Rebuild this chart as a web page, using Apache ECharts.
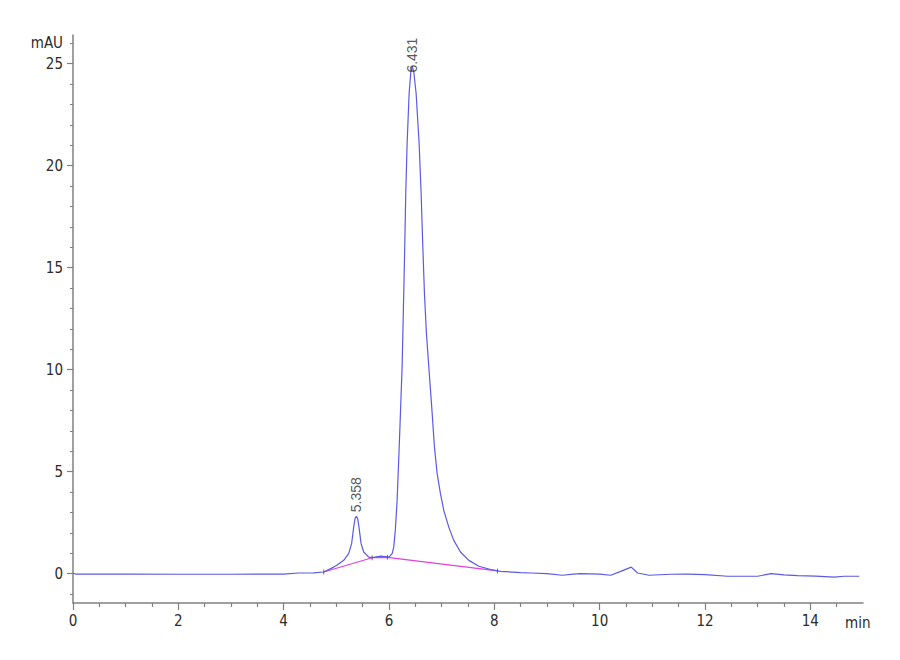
<!DOCTYPE html>
<html>
<head>
<meta charset="utf-8">
<title>Chromatogram</title>
<script src="https://cdn.jsdelivr.net/npm/echarts@6/dist/echarts.min.js"></script>
<style>
html,body{margin:0;padding:0;background:#fff;}
#main{width:900px;height:660px;}
</style>
</head>
<body>
<div id="main"></div>
<script>
// retention time (min) and detector signal (mAU)
var times = [0, 0.05, 1, 2, 3, 4, 4.28, 4.57, 4.76, 4.95, 5.01, 5.14, 5.234, 5.29, 5.33, 5.355, 5.38, 5.405, 5.43, 5.47, 5.52, 5.614, 5.68, 5.76, 5.84, 5.93, 6.0, 6.06, 6.09, 6.12, 6.154, 6.179, 6.203, 6.249, 6.28, 6.30, 6.318, 6.344, 6.382, 6.415, 6.44, 6.47, 6.515, 6.572, 6.61, 6.64, 6.673, 6.711, 6.774, 6.82, 6.863, 6.914, 6.977, 7.04, 7.135, 7.23, 7.357, 7.516, 7.706, 7.93, 8.12, 8.5, 8.69, 9.0, 9.29, 9.5, 9.64, 10.0, 10.21, 10.4, 10.6, 10.72, 10.94, 11.35, 11.67, 12.0, 12.43, 13.0, 13.25, 13.5, 13.76, 14.1, 14.45, 14.64, 14.93];
var signal = [0.02, -0.02, -0.02, -0.03, -0.03, -0.02, 0.03, 0.04, 0.08, 0.32, 0.41, 0.65, 0.98, 1.47, 2.28, 2.70, 2.81, 2.70, 2.28, 1.47, 1.06, 0.81, 0.78, 0.82, 0.86, 0.84, 0.81, 0.98, 1.30, 2.12, 3.59, 5.23, 6.86, 10.13, 13.73, 16.18, 18.63, 21.08, 23.53, 24.6, 24.85, 24.6, 23.53, 21.08, 18.63, 16.18, 13.73, 11.76, 9.48, 7.84, 6.21, 4.90, 3.92, 3.10, 2.28, 1.63, 1.06, 0.65, 0.36, 0.20, 0.11, 0.05, 0.03, 0.0, -0.08, -0.02, 0.0, -0.02, -0.08, 0.11, 0.32, 0.03, -0.08, -0.03, -0.02, -0.05, -0.13, -0.13, 0.0, -0.06, -0.1, -0.12, -0.17, -0.13, -0.13];

// integration baseline (drop points)
var baseTimes = [4.76, 5.68, 5.97, 8.06];
var baseValues = [0.08, 0.78, 0.80, 0.13];

// peak labels
var peakTimes = [5.38, 6.44];
var peakHeights = [2.81, 24.85];
var peakNames = ['5.358', '6.431'];

// ticks
var xMajor = [0, 2, 4, 6, 8, 10, 12, 14];
var xMinor = [0.5, 1, 1.5, 2.5, 3, 3.5, 4.5, 5, 5.5, 6.5, 7, 7.5, 8.5, 9, 9.5, 10.5, 11, 11.5, 12.5, 13, 13.5, 14.5];
var yMajor = [0, 5, 10, 15, 20, 25];
var yMinor = [-1, 1, 2, 3, 4, 6, 7, 8, 9, 11, 12, 13, 14, 16, 17, 18, 19, 21, 22, 23, 24, 26];
var yLabels = [0, 5, 10, 15, 20, 25, 26];

var FONT = "'Liberation Sans Narrow', 'DejaVu Sans Condensed', 'Liberation Sans', sans-serif";
var AXIS = '#808080';
var TEXT = '#2b2b2b';

function pairs(xs, ys) {
    var out = [];
    for (var i = 0; i < xs.length; i++) out.push([xs[i], ys[i]]);
    return out;
}

var labelDist = [4, -6];
var peakData = [];
for (var i = 0; i < peakTimes.length; i++) {
    peakData.push({
        value: [peakTimes[i], peakHeights[i]],
        name: peakNames[i],
        label: {distance: labelDist[i]}
    });
}

var myChart = echarts.init(document.getElementById('main'), null, {renderer: 'svg'});
var option = {
    animation: false,
    backgroundColor: '#fff',
    grid: {left: 73, right: 37, top: 35, bottom: 57, containLabel: false},
    xAxis: [{
        type: 'value', min: 0, max: 15, position: 'bottom', offset: 0,
        name: 'min', nameLocation: 'end', nameGap: -18,
        nameTextStyle: {color: TEXT, fontFamily: FONT, fontSize: 15, verticalAlign: 'top', padding: [12, 0, 0, 0]},
        axisLine: {show: true, onZero: false, lineStyle: {color: AXIS, width: 1.5}},
        axisTick: {show: true, length: 7, customValues: xMajor, lineStyle: {color: AXIS, width: 1.2}},
        axisLabel: {customValues: xMajor, margin: 10, color: TEXT, fontFamily: FONT, fontSize: 15},
        splitLine: {show: false}
    }, {
        type: 'value', min: 0, max: 15, position: 'bottom', offset: 0,
        axisLine: {show: false, onZero: false},
        axisTick: {show: true, length: 4, customValues: xMinor, lineStyle: {color: AXIS, width: 1.2}},
        axisLabel: {show: false},
        splitLine: {show: false}
    }],
    yAxis: [{
        type: 'value', min: -1.44, max: 26.4, position: 'left', offset: 0,
        axisLine: {show: true, onZero: false, lineStyle: {color: AXIS, width: 1.5}},
        axisTick: {show: true, length: 6, customValues: yMajor, lineStyle: {color: AXIS, width: 1.2}},
        axisLabel: {
            customValues: yLabels, margin: 10, color: TEXT, fontFamily: FONT, fontSize: 15,
            formatter: function (v) { return v === 26 ? 'mAU' : String(v); }
        },
        splitLine: {show: false}
    }, {
        type: 'value', min: -1.44, max: 26.4, position: 'left', offset: 0,
        axisLine: {show: false, onZero: false},
        axisTick: {show: true, length: 3, customValues: yMinor, lineStyle: {color: AXIS, width: 1}},
        axisLabel: {show: false},
        splitLine: {show: false}
    }],
    series: [{
        type: 'line',
        name: 'baseline',
        data: pairs(baseTimes, baseValues),
        showSymbol: false,
        lineStyle: {color: '#e040e0', width: 1.2},
        z: 2
    }, {
        type: 'line',
        name: 'signal',
        data: pairs(times, signal),
        showSymbol: false,
        lineStyle: {color: '#5a5ae6', width: 1.2},
        z: 3
    }, {
        type: 'scatter',
        name: 'marks',
        data: pairs(baseTimes, baseValues),
        symbol: 'rect',
        symbolSize: [1, 5],
        itemStyle: {color: '#555'},
        z: 4
    }, {
        type: 'scatter',
        name: 'peaks',
        data: peakData,
        symbolSize: 0,
        label: {
            show: true, position: 'top', rotate: 90, align: 'left', verticalAlign: 'middle',
            formatter: function (p) { return p.name; },
            color: TEXT, fontFamily: "'Liberation Sans', Arial, sans-serif", fontSize: 14
        },
        z: 5
    }]
};
myChart.setOption(option);
</script>
</body>
</html>
